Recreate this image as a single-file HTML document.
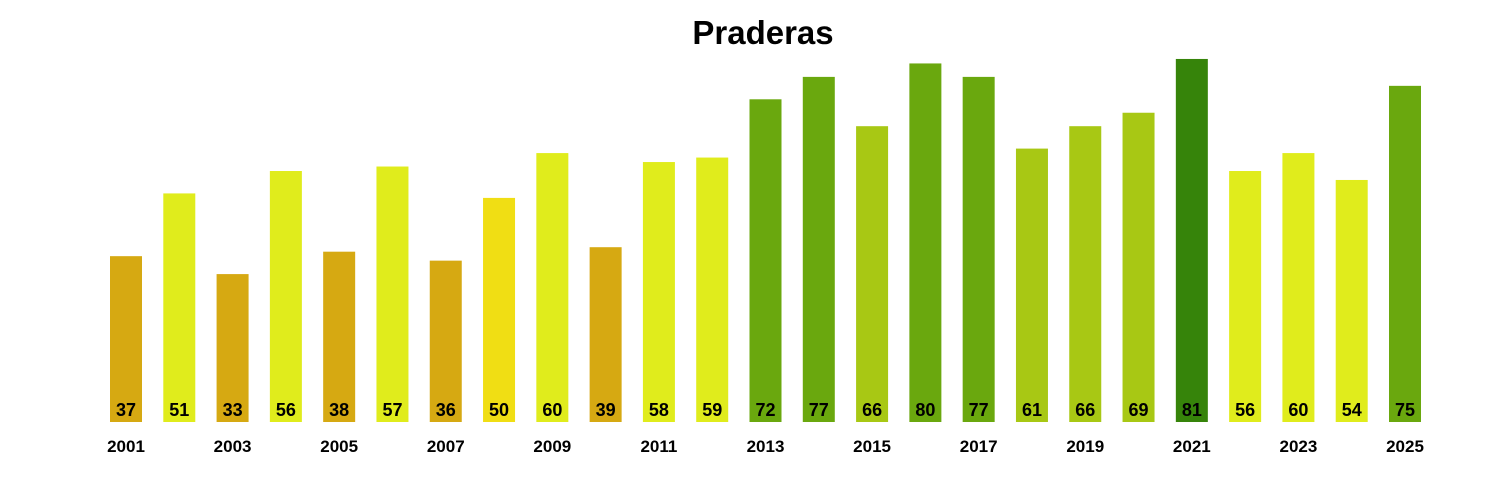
<!DOCTYPE html>
<html><head><meta charset="utf-8"><style>
html,body{margin:0;padding:0;background:#fff;}
svg{display:block;font-family:"Liberation Sans",Arial,sans-serif;}
</style></head><body>
<svg id="chart" width="1500" height="500" viewBox="0 0 1500 500">
<text x="763" y="44" text-anchor="middle" font-size="33" font-weight="bold" fill="#000">Praderas</text>
<g id="bars"></g>
<g id="xlabels"></g>
</svg>
<script>
const years = [2001,2002,2003,2004,2005,2006,2007,2008,2009,2010,2011,2012,2013,2014,2015,2016,2017,2018,2019,2020,2021,2022,2023,2024,2025];
const values = [37,51,33,56,38,57,36,50,60,39,58,59,72,77,66,80,77,61,66,69,81,56,60,54,75];
const tickYears = [2001,2003,2005,2007,2009,2011,2013,2015,2017,2019,2021,2023,2025];

const baseY = 422, pxPerUnit = 4.482;
const firstX = 126, lastX = 1405, barW = 32;
function xScale(i){ return firstX + i*(lastX-firstX)/(years.length-1); }
function yScale(v){ return baseY - v*pxPerUnit; }
function colorFor(v){
  if (v < 45) return '#D6A912';
  if (v < 51) return '#F0DE14';
  if (v < 61) return '#E0EC1C';
  if (v < 70) return '#A8C814';
  if (v < 81) return '#6AA80E';
  return '#36840A';
}
const NS='http://www.w3.org/2000/svg';
const bars=document.getElementById('bars');
values.forEach((v,i)=>{
  const cx=xScale(i);
  const r=document.createElementNS(NS,'rect');
  r.setAttribute('x',cx-barW/2);
  r.setAttribute('y',yScale(v));
  r.setAttribute('width',barW);
  r.setAttribute('height',baseY-yScale(v));
  r.setAttribute('fill',colorFor(v));
  
  
  bars.appendChild(r);
  const t=document.createElementNS(NS,'text');
  t.setAttribute('x',cx);
  t.setAttribute('y',416);
  t.setAttribute('text-anchor','middle');
  t.setAttribute('font-size','18');
  t.setAttribute('font-weight','bold');
  t.textContent=v;
  
  
  bars.appendChild(t);
});
const xl=document.getElementById('xlabels');
tickYears.forEach(y=>{
  const i=years.indexOf(y);
  const t=document.createElementNS(NS,'text');
  t.setAttribute('x',xScale(i));
  t.setAttribute('y',452);
  t.setAttribute('text-anchor','middle');
  t.setAttribute('font-size','17');
  t.setAttribute('font-weight','bold');
  t.textContent=y;
  
  
  xl.appendChild(t);
});
</script>
</body></html>
